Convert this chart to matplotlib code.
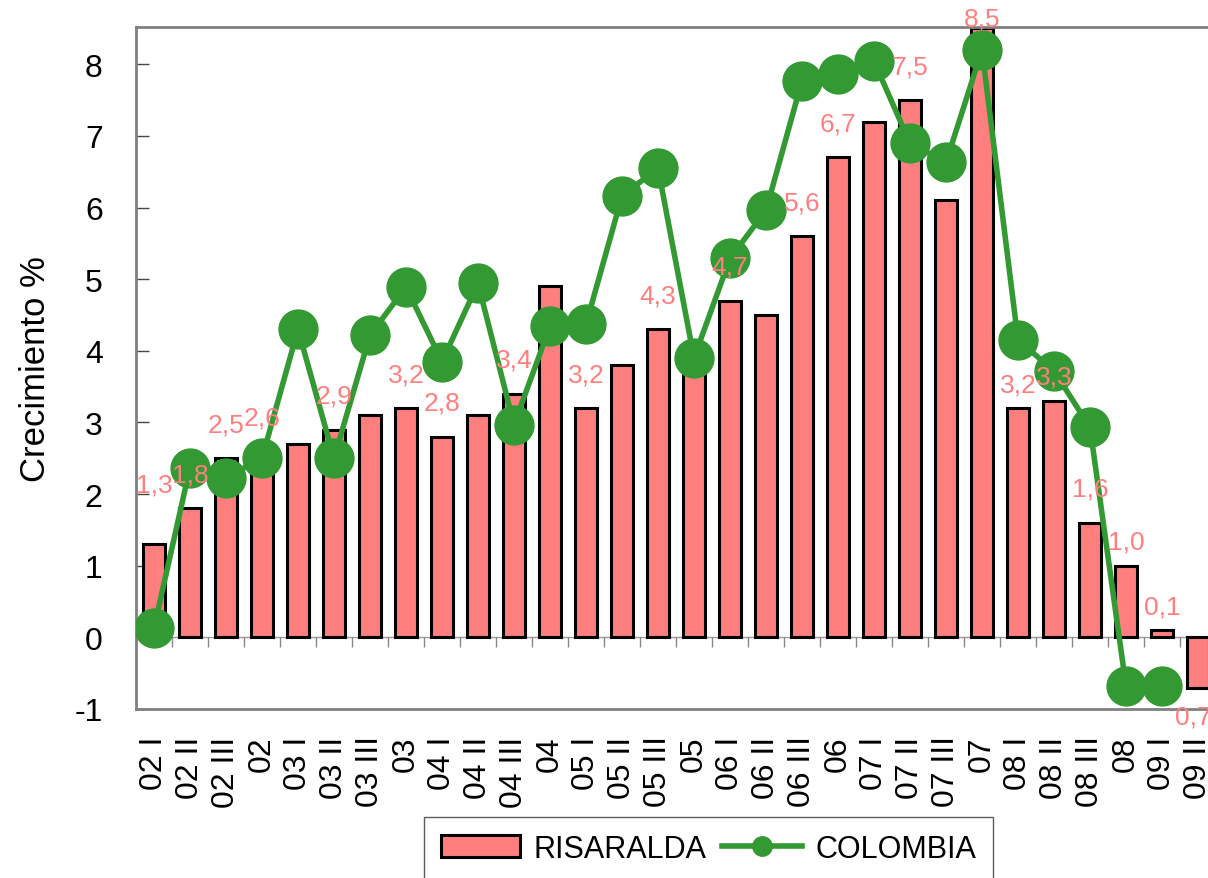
import matplotlib
matplotlib.use("Agg")
import matplotlib.pyplot as plt
import numpy as np

categories = ["02 I", "02 II", "02 III", "02", "03 I", "03 II", "03 III", "03",
              "04 I", "04 II", "04 III", "04", "05 I", "05 II", "05 III", "05",
              "06 I", "06 II", "06 III", "06", "07 I", "07 II", "07 III", "07",
              "08 I", "08 II", "08 III", "08", "09 I", "09 II"]

risaralda = [1.3, 1.8, 2.5, 2.6, 2.7, 2.9, 3.1, 3.2,
             2.8, 3.1, 3.4, 4.9, 3.2, 3.8, 4.3, 3.8,
             4.7, 4.5, 5.6, 6.7, 7.2, 7.5, 6.1, 8.5,
             3.2, 3.3, 1.6, 1.0, 0.1, -0.7]

colombia = [0.13, 2.37, 2.23, 2.5, 4.30, 2.5, 4.22, 4.89,
            3.85, 4.94, 2.97, 4.34, 4.37, 6.16, 6.55, 3.90,
            5.29, 5.96, 7.77, 7.86, 8.04, 6.90, 6.63, 8.20,
            4.15, 3.72, 2.93, -0.68, -0.68, np.nan]

# bars that carry a value label
labeled = [0, 1, 2, 3, 5, 7, 8, 10, 12, 14, 16, 18, 19, 21, 23, 24, 25, 26, 27, 28, 29]
label_texts = {29: "0,7-"}

plt.rcParams['font.family'] = ['Liberation Sans', 'DejaVu Sans']

fig = plt.figure(figsize=(12.08, 8.79), dpi=100)
ax = fig.add_axes([136/1208, 1 - 710/879, (1216 - 136)/1208, (710 - 28)/879])

x = np.arange(len(categories))
bar_color = "#FF7F7F"
line_color = "#339933"
bars = ax.bar(x, risaralda, width=0.6, color=bar_color, edgecolor="black", linewidth=2.2,
              label="RISARALDA", zorder=2)

line, = ax.plot(x, colombia, color=line_color, linewidth=4, marker="o", markersize=28,
                label="COLOMBIA", zorder=4)

# zero line with small category-boundary ticks
ax.axhline(0, color="#999999", linewidth=1, zorder=1)
ax.plot(x[:-1] + 0.5, np.zeros(len(x) - 1), linestyle="none", marker=3,
        markersize=7, color="#888888", markeredgewidth=1, zorder=1)

for i in labeled:
    v = risaralda[i]
    txt = label_texts.get(i, f"{abs(v):.1f}".replace(".", ","))
    if v >= 0:
        off = 34
        if i == 0:
            off = 60
        elif i in (24, 25, 27, 28):
            off = 24
        elif i == 23:
            off = 10
        ax.annotate(txt, (i, v), xytext=(0, off * 0.72), textcoords="offset points",
                    ha="center", va="center", color=bar_color, fontsize=19, zorder=5,
                    annotation_clip=False)
    else:
        ax.annotate(txt, (i, v), xytext=(0, -21), textcoords="offset points",
                    ha="center", va="center", color=bar_color, fontsize=19, zorder=5,
                    annotation_clip=False)

ax.set_xlim(-0.5, len(categories) - 0.5)
ax.set_ylim(-1, 8.52)
ax.set_yticks(range(-1, 9))
ax.set_yticklabels([str(t) for t in range(-1, 9)], fontsize=23)
ax.tick_params(axis="y", direction="in", length=9, width=1, color="#444444", pad=24)
ax.set_xticks(x)
ax.set_xticklabels(categories, rotation=90, fontsize=23)
ax.tick_params(axis="x", length=0, pad=19)

for s in ["left", "top", "bottom", "right"]:
    ax.spines[s].set_color("#808080")
    ax.spines[s].set_linewidth(2)

ax.set_ylabel("Crecimiento %", fontsize=25, labelpad=16)

leg = fig.legend([bars, line], ["RISARALDA", "COLOMBIA"], loc="upper left",
                 bbox_to_anchor=(424/1208, 1 - 818/879), borderaxespad=0, ncol=2,
                 fontsize=22, frameon=True, fancybox=False, edgecolor="#333333",
                 handlelength=2.6, handleheight=0.7, columnspacing=0.5,
                 handletextpad=0.45, borderpad=0.55, markerscale=0.5)
leg.get_frame().set_linewidth(1)

fig.savefig("out.png", dpi=100)
